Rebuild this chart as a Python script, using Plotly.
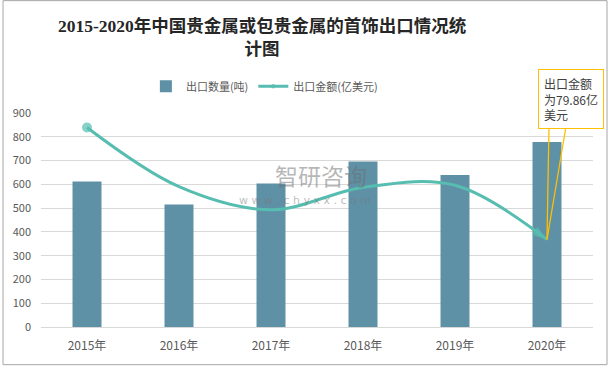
import plotly.graph_objects as go

years = ["2015年", "2016年", "2017年", "2018年", "2019年", "2020年"]
export_qty = [612, 515, 604, 696, 639, 778]               # 出口数量(吨)
export_value = [182.0, 128.0, 107.0, 127.4, 129.3, 79.86]  # 出口金额(亿美元)
y_ticks = [0, 100, 200, 300, 400, 500, 600, 700, 800, 900]

title_text = "2015-2020年中国贵金属或包贵金属的首饰出口情况统<br>计图"
callout_text = "出口金额<br>为79.86亿<br>美元"

CJK = "Noto Sans CJK SC, Microsoft YaHei, sans-serif"
GRID = "#D9D9D9"
TXT = "#595959"
TEAL = "#56BDB0"
GOLD = "#FFC000"

n = len(years)
sym = ["circle"] * (n - 1) + ["arrow"]
sizes = [10] + [0] * (n - 2) + [16]
angles = [0] * (n - 1) + [125]

fig = go.Figure()
fig.add_trace(go.Bar(
    x=years, y=export_qty, name="出口数量(吨)",
    marker=dict(color="#5E90A6", line=dict(width=0)),
))
fig.add_trace(go.Scatter(
    x=years, y=export_value, name="出口金额(亿美元)", yaxis="y2",
    mode="lines+markers",
    line=dict(color=TEAL, width=3, shape="spline", smoothing=1.0),
    marker=dict(symbol=sym, size=sizes, angle=angles, color=TEAL,
                line=dict(width=0)),
))

fig.update_layout(
    width=611, height=368, autosize=False,
    margin=dict(l=41, r=18, t=113, b=41, autoexpand=False),
    paper_bgcolor="white", plot_bgcolor="white",
    bargap=0.685,
    font=dict(family=CJK, size=12, color=TXT),
    title=dict(
        text=title_text, x=0.429, xanchor="center", y=0.912, yanchor="middle",
        font=dict(family="Liberation Serif, Noto Sans CJK SC, serif", size=17.5,
                  color="#262626", weight="bold"),
    ),
    showlegend=True,
    legend=dict(orientation="h", x=0.19, xanchor="left", y=1.125, yanchor="middle",
                font=dict(family=CJK, size=11, color=TXT), itemwidth=30,
                bgcolor="rgba(0,0,0,0)"),
    xaxis=dict(range=[-0.5, len(years) - 0.5], autorange=False,
               showgrid=False, showline=True, linecolor=GRID, linewidth=1,
               ticks="", tickfont=dict(size=12, color=TXT), ticklabelstandoff=8,
               automargin=False),
    yaxis=dict(range=[0, 900], tickvals=y_ticks, showgrid=True, gridcolor=GRID,
               gridwidth=1, zeroline=False, showline=False, ticks="",
               tickfont=dict(size=11, color=TXT), ticklabelstandoff=9,
               automargin=False),
    yaxis2=dict(range=[0, 195.3], overlaying="y", visible=False),
)

# callout pointer (wedge edges) for the 2020 export value
for dx in (2, 19):
    fig.add_annotation(
        x=years[-1], y=export_value[-1], xref="x", yref="y2", text="",
        showarrow=True, ax=dx, ay=-113, arrowhead=0, arrowwidth=1.3,
        arrowcolor=GOLD, standoff=0,
    )
# callout box
fig.add_annotation(
    x=years[-1], y=export_value[-1], xref="x", yref="y2",
    text=callout_text, align="left", showarrow=True,
    ax=24, ay=-140, arrowhead=0, arrowwidth=1, arrowcolor="rgba(0,0,0,0)",
    bordercolor=GOLD, borderwidth=1, borderpad=5, bgcolor="white",
    font=dict(family=CJK, size=12, color="#404040"), standoff=0,
)

# watermark
fig.add_annotation(x=0.507, y=0.712, xref="paper", yref="paper", text="智研咨询",
                   xanchor="center", yanchor="middle", showarrow=False,
                   font=dict(family=CJK, size=23, color="rgba(110,110,110,0.5)"))
fig.add_annotation(x=0.478, y=0.59, xref="paper", yref="paper",
                   text="w w w . c h y x x . c o m", xanchor="center", yanchor="middle",
                   showarrow=False,
                   font=dict(family="DejaVu Sans", size=11, color="rgba(120,120,120,0.5)"))

# outer frame
fig.add_shape(type="rect", xref="paper", yref="paper",
              x0=-0.0688, x1=1.0254, y0=-0.176, y1=1.525,
              line=dict(color="#A6A6A6", width=1), fillcolor="rgba(0,0,0,0)", layer="below")

fig.write_html(
    "out.html",
    config={"displayModeBar": False, "responsive": False},
    post_script="document.body.style.margin='0';document.body.style.overflow='hidden';",
)
